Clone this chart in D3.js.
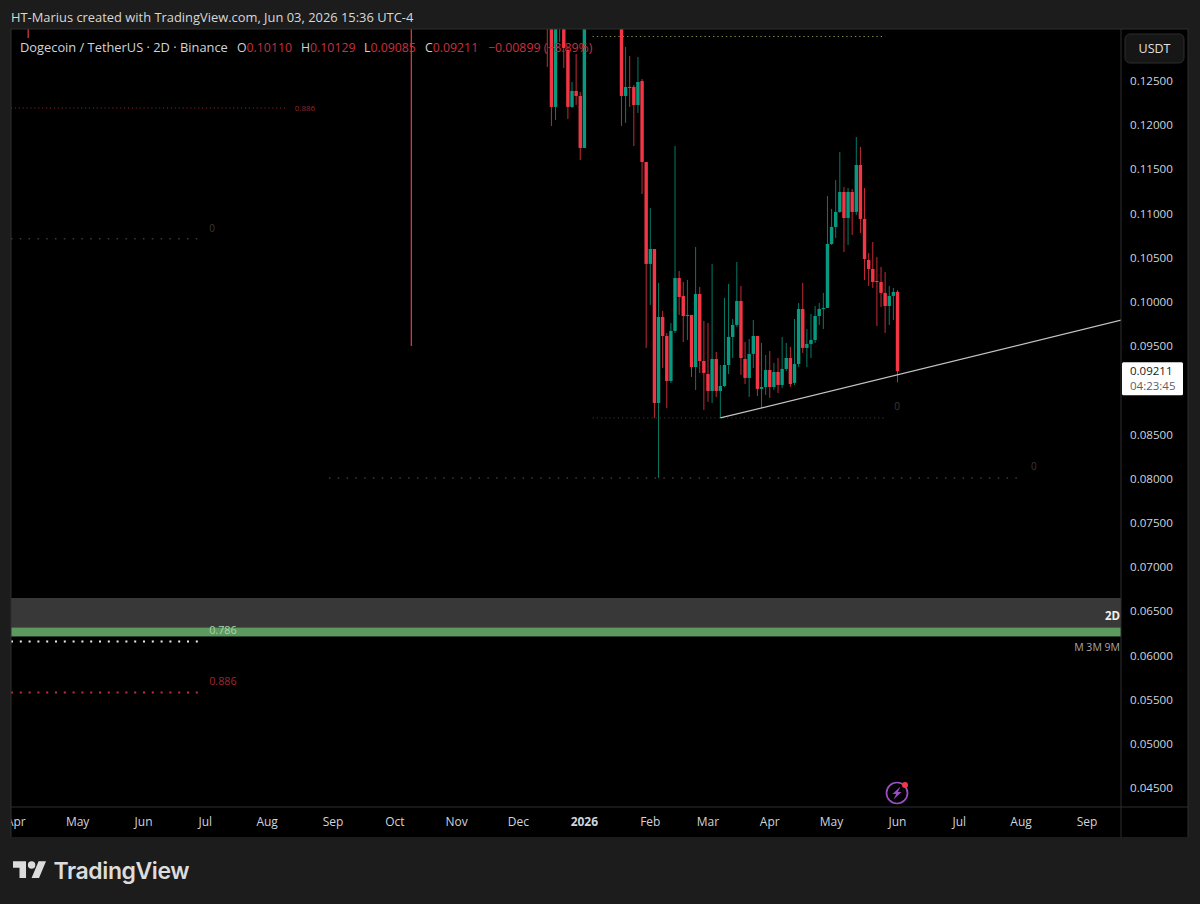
<!DOCTYPE html>
<html><head><meta charset="utf-8">
<script src="https://cdn.jsdelivr.net/npm/d3@7"></script>
<style>
html,body{margin:0;padding:0;background:#1c1c1c;overflow:hidden}
svg{display:block}
text{font-family:"Open Sans","Noto Sans",sans-serif}
</style></head><body>
<div id="chart"></div>
<script>
// bar numbers count 2-day bars back from the last candle (Jun 3 2026 = 0)
const firstBar = -85;
const opens = [.1340,.1312,.12201,.1315,.1315,.12845,.12201,.12382,.12325,.11737,
 .1320,.1375,.1420,.1395,.1435,.1425,.1490,.1465,
 .1400,.12325,.12427,.12427,.12223,.12495,.11578,.10425,.10594,.08852,.09825,.09610,.09101,.09667,.10266,.10063,.09836,.09848,.09259,.10085,.09327,.09180,.08988,.09350,.08988,.09044,.09282,.09599,.09735,.10006,.09350,.09135,.09407,.09610,.09011,.09033,.09225,.09033,.09203,.09056,.09237,.09361,.09079,.09293,.09915,.09475,.09520,.09565,.09836,.09915,.09927,.10651,.10843,.11013,.11239,.10945,.11239,.11013,.11544,.10934,.10470,.10368,.10232,.10221,.10097,.09949,.10063,.10110];
const highs = [.1370,.1330,.1345,.1360,.1330,.12868,.12483,.12800,.12370,.1345,
 .1400,.1440,.1460,.1450,.1480,.1520,.1530,.1490,
 .1410,.12879,.12778,.12450,.12766,.12517,.11578,.11058,.10594,.10210,.09893,.09644,.09757,.11759,.10345,.10221,.10244,.09848,.10617,.10165,.09780,.09757,.10425,.09429,.09282,.10040,.10198,.09802,.10447,.10176,.09542,.09576,.09791,.09610,.09531,.09395,.09440,.09305,.09361,.09599,.09531,.09486,.09802,.09983,.10210,.09689,.09859,.09949,.09983,.10097,.11194,.11047,.11375,.11692,.11296,.11284,.11273,.11861,.11748,.11284,.10549,.10673,.10504,.10391,.10334,.10176,.10153,.10129];
const lows = [.12653,.11986,.12054,.12936,.12642,.12065,.12189,.12223,.11601,.11737,
 .1315,.1360,.1385,.1370,.1410,.1415,.1440,.1380,
 .11986,.12020,.12201,.11759,.12133,.11216,.09475,.09961,.08683,.08004,.09248,.08796,.09079,.09644,.09848,.09542,.09565,.09146,.08999,.09192,.08773,.08864,.08852,.08920,.08683,.09033,.09180,.09361,.09712,.09169,.09067,.08920,.09248,.08931,.08796,.08943,.08909,.08999,.08965,.09022,.09214,.09033,.09056,.09259,.09418,.09259,.09361,.09531,.09735,.09689,.09927,.10640,.10719,.11002,.10560,.10640,.10753,.10979,.10775,.10244,.10176,.10153,.09723,.09938,.09644,.09735,.09791,.09085];
const closes = [.1312,.12201,.1330,.1345,.12868,.12201,.12382,.12325,.11737,.1320,
 .1375,.1420,.1395,.1435,.1425,.1490,.1465,.1400,
 .12325,.12427,.12416,.12223,.12483,.11578,.10425,.10594,.08852,.09825,.09610,.09101,.09667,.10266,.10051,.09836,.09848,.09259,.10085,.09327,.09192,.08988,.09350,.08988,.09044,.09282,.09599,.09735,.10006,.09361,.09135,.09407,.09610,.09011,.09033,.09225,.09033,.09203,.09056,.09237,.09361,.09067,.09293,.09915,.09475,.09520,.09565,.09836,.09915,.09927,.10651,.10843,.11013,.11239,.10945,.11239,.11013,.11544,.10934,.10481,.10368,.10221,.10221,.10097,.09949,.10063,.10108,.09211];

// isolated older bars whose bodies sit above the visible price range
const spikeBars = [-211,-118];
const spikeHighs = [.1400,.1400];
const spikeLows = [.12981,.09497];

// 0.09000 is covered by the last-price tag in the reference, so it is not listed
const priceTicks = [.125,.12,.115,.11,.105,.10,.095,.085,.08,.075,.07,.065,.06,.055,.05,.045];
const monthLabels = ["Apr","May","Jun","Jul","Aug","Sep","Oct","Nov","Dec","2026","Feb","Mar","Apr","May","Jun","Jul","Aug","Sep"];
const monthBars = [-214,-199,-183,-168,-153,-137,-122,-107,-92,-76,-60,-46,-31,-16,0,15,30,46];

// fib levels: price, bar where it starts, bar where it ends
const levelPrices = [.12998,.12189,.10710,.08683,.08004,.06154,.05577];
const levelStarts = [-74,-300,-300,-74,-138,-300,-300];
const levelEnds = [-3,-148,-169.5,-3,30,-169.5,-169.5];
const levelTexts = ["","0.886","0","0","0","0.786","0.886"];
const bandPrices = [.06646,.06313,.06211];
const trendBars = [-43,55];
const trendPrices = [.08683,.09797];

const legendName = "Dogecoin / TetherUS · 2D · Binance";
const legendKeys = ["O","H","L","C"];
const legendVals = ["0.10110","0.10129","0.09085","0.09211"];
const legendChange = "−0.00899 (−8.89%)";
const lastPrice = .09211;

const W=1200,H=904;
const pane={l:11,r:1121,t:29,b:807};
const axisR=1188, timeB=837;
const UP="#089981", DOWN="#f23645";

const x=d3.scaleLinear().domain([0,1]).range([897.5,897.5+4.12]);
const y=d3.scaleLinear().domain([.10,.12]).range([301.5,124.7]);

const svg=d3.select("#chart").append("svg").attr("width",W).attr("height",H);
svg.append("rect").attr("width",W).attr("height",H).attr("fill","#1c1c1c");
const defs=svg.append("defs");
defs.append("clipPath").attr("id","pane").append("rect").attr("x",pane.l).attr("y",pane.t).attr("width",pane.r-pane.l).attr("height",pane.b-pane.t);
defs.append("clipPath").attr("id","time").append("rect").attr("x",pane.l).attr("y",pane.b).attr("width",pane.r-pane.l).attr("height",timeB-pane.b);

// panel backgrounds
svg.append("rect").attr("x",pane.l).attr("y",pane.t).attr("width",axisR-pane.l).attr("height",timeB-pane.t).attr("fill","#000");
svg.append("text").attr("x",11).attr("y",21.5).attr("fill","#d8d8d8").attr("font-size",12.9)
  .text("HT-Marius created with TradingView.com, Jun 03, 2026 15:36 UTC-4");

const g=svg.append("g").attr("clip-path","url(#pane)");

// zones
g.append("rect").attr("x",pane.l).attr("width",pane.r-pane.l).attr("y",y(bandPrices[0])).attr("height",y(bandPrices[1])-y(bandPrices[0])).attr("fill","#383838");
g.append("rect").attr("x",pane.l).attr("width",pane.r-pane.l).attr("y",y(bandPrices[1])).attr("height",y(bandPrices[2])-y(bandPrices[1])).attr("fill","#5c9a60");

// fib levels
const levelStyle=[
 {c:"#8a8a4a",d:"1.3 3",w:1.2,t:"#000",fs:8,dx:0,dy:0},
 {c:"#9a2530",d:"1 2.9",w:1,t:"#8f2a32",fs:8,dx:7,dy:3},
 {c:"#3a3a3a",d:"1.5 7.3",w:1.3,t:"#3a3a3a",fs:10,dx:10,dy:-7},
 {c:"#333d36",d:"1.2 3",w:1,t:"#3a3a3a",fs:10,dx:9,dy:-8},
 {c:"#3c3c3c",d:"1.5 7.3",w:1.4,t:"#3a3a3a",fs:10,dx:10,dy:-8},
 {c:"#e8efe8",d:"2 6.8",w:2,t:"#a9d5ad",fs:10.8,dx:10,dy:-7},
 {c:"#c22f3f",d:"2 6.8",w:2,t:"#a3262f",fs:10.8,dx:10,dy:-7}
];
levelPrices.forEach((p,i)=>{
  const s=levelStyle[i], xa=Math.max(x(levelStarts[i]),pane.l), xb=x(levelEnds[i]);
  g.append("line").attr("x1",xa).attr("x2",xb).attr("y1",y(p)).attr("y2",y(p))
    .attr("stroke",s.c).attr("stroke-width",s.w).attr("stroke-dasharray",s.d);
  if(levelTexts[i]) g.append("text").attr("x",xb+s.dx).attr("y",y(p)+s.dy).attr("fill",s.t)
    .attr("font-size",s.fs).text(levelTexts[i]);
});

// isolated spikes
g.selectAll("line.spike").data(spikeBars).join("line").attr("class","spike")
  .attr("x1",d=>x(d)).attr("x2",d=>x(d))
  .attr("y1",(d,i)=>y(spikeHighs[i])).attr("y2",(d,i)=>y(spikeLows[i]))
  .attr("stroke","#d93545").attr("stroke-width",1.3);

// candles
const idx=d3.range(opens.length);
const col=i=>closes[i]>=opens[i]?UP:DOWN;
g.selectAll("line.wick").data(idx).join("line").attr("class","wick")
  .attr("x1",i=>x(firstBar+i)).attr("x2",i=>x(firstBar+i))
  .attr("y1",i=>y(highs[i])).attr("y2",i=>y(lows[i]))
  .attr("stroke",col).attr("stroke-width",1).attr("stroke-opacity",.8);
g.selectAll("rect.body").data(idx).join("rect").attr("class","body")
  .attr("x",i=>x(firstBar+i)-1.7).attr("width",3.4)
  .attr("y",i=>y(Math.max(opens[i],closes[i])))
  .attr("height",i=>Math.max(1,Math.abs(y(opens[i])-y(closes[i]))))
  .attr("fill",col);

// trend line
g.append("line").attr("x1",x(trendBars[0])).attr("x2",x(trendBars[1]))
  .attr("y1",y(trendPrices[0])).attr("y2",y(trendPrices[1]))
  .attr("stroke","#c4c4c4").attr("stroke-width",1.2);

// band captions
g.append("text").attr("x",1120).attr("y",620).attr("text-anchor","end").attr("fill","#f0f0f0").attr("font-size",11.5).attr("font-weight",700).text("2D");
g.append("text").attr("x",1120).attr("y",651).attr("text-anchor","end").attr("fill","#a8a8a8").attr("font-size",10.5).text("M 3M 9M");

// bolt icon
const icon=svg.append("g").attr("transform","translate(897,793)");
icon.append("circle").attr("r",10.5).attr("fill","none").attr("stroke","#9b4fc4").attr("stroke-width",1.7);
icon.append("path").attr("d","M3.5 -6.5 L-4.5 1 L-0.8 1 L-3.5 6.5 L4.5 -1 L0.8 -1 Z").attr("fill","#9b4fc4");
icon.append("circle").attr("cx",8).attr("cy",-8).attr("r",3).attr("fill","#f23645");

// price axis
const yAxis=d3.axisRight(y).tickValues(priceTicks).tickSize(0).tickPadding(0).tickFormat(d3.format(".5f"));
const ya=svg.append("g").attr("transform",`translate(1130,0)`).call(yAxis);
ya.select(".domain").remove();
ya.selectAll("text").attr("fill","#d1d4dc").attr("font-size",11.6).attr("dy","0.35em").attr("x",0);

// time axis
const tg=svg.append("g").attr("clip-path","url(#time)");
tg.selectAll("text").data(monthBars).join("text")
  .attr("x",d=>x(d)).attr("y",826).attr("text-anchor","middle").attr("fill","#d1d4dc").attr("font-size",12)
  .attr("font-weight",(d,i)=>monthLabels[i]==="2026"?700:400)
  .text((d,i)=>monthLabels[i]);

// panel borders
const bc="#2e2e2e";
[[pane.l,pane.t,axisR,pane.t],[pane.l,pane.b,axisR,pane.b],[pane.r,pane.t,pane.r,timeB],[axisR,pane.t,axisR,timeB],[pane.l,pane.t,pane.l,timeB]]
 .forEach(a=>svg.append("line").attr("x1",a[0]).attr("y1",a[1]).attr("x2",a[2]).attr("y2",a[3]).attr("stroke",bc));

// USDT button
svg.append("rect").attr("x",1125).attr("y",34).attr("width",59).attr("height",29).attr("rx",5).attr("fill","#161616").attr("stroke","#2c2c2c");
svg.append("text").attr("x",1154.5).attr("y",53).attr("text-anchor","middle").attr("fill","#e0e0e0").attr("font-size",12.5).text("USDT");

// last price tag
const ly=y(lastPrice);
svg.append("rect").attr("x",1122).attr("y",ly-9).attr("width",61).attr("height",33).attr("rx",1.5).attr("fill","#fff");
svg.append("text").attr("x",1130).attr("y",ly+4).attr("fill","#131722").attr("font-size",11.5).text(d3.format(".5f")(lastPrice));
svg.append("text").attr("x",1130).attr("y",ly+19).attr("fill","#5d606b").attr("font-size",11.5).text("04:23:45");

// legend
const lg=svg.append("g");
lg.append("text").attr("x",20).attr("y",51.5).attr("fill","#d1d4dc").attr("font-size",12.85).text(legendName);
const keyX=[237,301,364,425];
legendKeys.forEach((k,i)=>{
  const t=lg.append("text").attr("x",keyX[i]).attr("y",51.5).attr("font-size",12.3);
  t.append("tspan").attr("fill","#d1d4dc").text(k);
  t.append("tspan").attr("fill","#c9303f").text(legendVals[i]);
});
lg.append("text").attr("x",488).attr("y",51.5).attr("font-size",12.3).attr("fill","#c9303f").text(legendChange);

// logo
const logo=svg.append("g").attr("transform","translate(13,857.5) scale(0.93)");
logo.append("path").attr("d","M14 22H7V11H0V4h14v18zM28 22h-8l7.5-18h8L28 22z").attr("fill","#dcdcdc");
logo.append("circle").attr("cx",20).attr("cy",8).attr("r",4).attr("fill","#dcdcdc");
svg.append("text").attr("x",53.5).attr("y",879).attr("fill","#dcdcdc").attr("font-size",23).attr("font-weight",600)
  .style("font-family","Inter,'Open Sans',sans-serif").attr("letter-spacing","-0.4").text("TradingView");
</script>
</body></html>
